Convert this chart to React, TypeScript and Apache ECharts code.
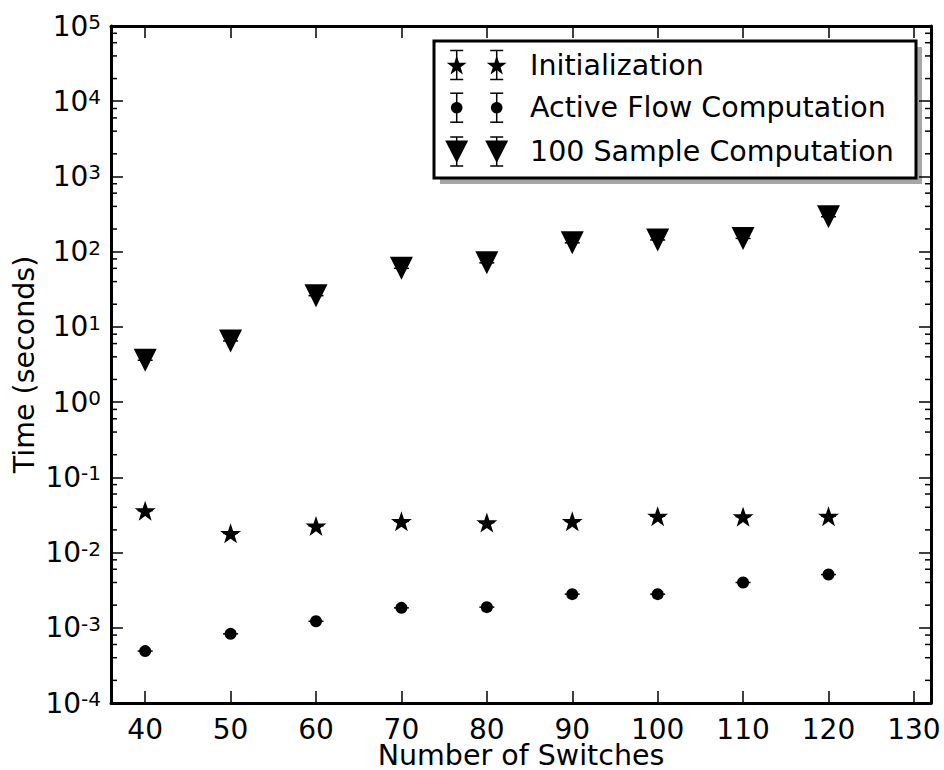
import React, { useEffect, useRef } from "react";
import * as echarts from "echarts";

const switches = [40, 50, 60, 70, 80, 90, 100, 110, 120];
const initTime = [0.036, 0.018, 0.0226, 0.026, 0.025, 0.026, 0.0305, 0.03, 0.0305];
const activeFlowTime = [0.00049, 0.00083, 0.00122, 0.00184, 0.00188, 0.0028, 0.0028, 0.004, 0.0051];
const sampleTime = [3.6, 6.5, 26, 60, 71, 131, 143, 150, 291];
const xTicks = [40, 50, 60, 70, 80, 90, 100, 110, 120, 130];
const seriesNames = ["Initialization", "Active Flow Computation", "100 Sample Computation"];

const X_MIN = 36;
const X_MAX = 132;
const Y_MIN = 1e-4;
const Y_MAX = 1e5;
const FONT = "DejaVu Sans";

// minor ticks at 2,4,6,8 x 10^k
const minorSubs = [2, 4, 6, 8];
const minorTickVals: number[] = [];
for (let e = -4; e < 5; e++) for (const m of minorSubs) minorTickVals.push(m * Math.pow(10, e));

function starPoints(cx: number, cy: number, R: number): number[][] {
  const pts: number[][] = [];
  const r = R * 0.39;
  for (let i = 0; i < 10; i++) {
    const ang = (-90 + i * 36) * Math.PI / 180;
    const rad = i % 2 === 0 ? R : r;
    pts.push([cx + rad * Math.cos(ang), cy + rad * Math.sin(ang)]);
  }
  return pts;
}
function starPath(R: number): string {
  const p = starPoints(0, 0, R);
  return "path://M" + p.map((q) => q[0].toFixed(3) + " " + q[1].toFixed(3)).join(" L") + " Z";
}

function pairs(ys: number[]) {
  return switches.map((x, i) => [x, ys[i]]);
}

function legendIcon(kind: string, cx: number, cy: number) {
  const els: any[] = [];
  const bar = { stroke: "#000", lineWidth: 1.5 };
  els.push({ type: "line", shape: { x1: cx, y1: cy - 14.5, x2: cx, y2: cy + 14.5 }, style: bar });
  els.push({ type: "line", shape: { x1: cx - 6.5, y1: cy - 14.5, x2: cx + 6.5, y2: cy - 14.5 }, style: bar });
  els.push({ type: "line", shape: { x1: cx - 6.5, y1: cy + 14.5, x2: cx + 6.5, y2: cy + 14.5 }, style: bar });
  if (kind === "star") {
    els.push({ type: "polygon", shape: { points: starPoints(cx, cy + 1, 10.5) }, style: { fill: "#000" } });
  } else if (kind === "circle") {
    els.push({ type: "circle", shape: { cx, cy, r: 5.8 }, style: { fill: "#000" } });
  } else {
    els.push({ type: "polygon", shape: { points: [[cx - 11.5, cy - 11], [cx + 11.5, cy - 11], [cx, cy + 11.5]] }, style: { fill: "#000" } });
  }
  return els;
}

export default function App() {
  const ref = useRef<HTMLDivElement>(null);
  useEffect(() => {
    if (!ref.current) return;
    document.body.style.margin = "0";
    document.body.style.overflow = "hidden";
    const chart = echarts.init(ref.current, undefined, { renderer: "svg", width: 944, height: 770 });

    const kinds = ["star", "circle", "triangle"];
    const rowY = [24, 66.7, 110.5];
    const legendChildren: any[] = [
      { type: "rect", shape: { x: 6, y: 6, width: 482, height: 137 }, style: { fill: "#a6a6a6" } },
      { type: "rect", shape: { x: 0, y: 0, width: 482, height: 137 }, style: { fill: "#fff", stroke: "#000", lineWidth: 3 } },
    ];
    kinds.forEach((k, i) => {
      legendChildren.push(...legendIcon(k, 22.7, rowY[i]));
      legendChildren.push(...legendIcon(k, 62.7, rowY[i]));
      legendChildren.push({
        type: "text",
        x: 96,
        y: rowY[i],
        style: { text: seriesNames[i], font: `28.5px '${FONT}'`, fill: "#000", verticalAlign: "middle", align: "left" },
      });
    });

    const capSeries = (data: number[][]) => ({
      type: "scatter",
      data,
      symbol: "rect",
      symbolSize: [15, 1.5],
      itemStyle: { color: "#000", opacity: 1 },
      z: 4,
      silent: true,
    });

    const axisLineStyle = { lineStyle: { color: "#000", width: 3 } };
    const tickStyle = { inside: true, length: 12, lineStyle: { color: "#000", width: 1.5 } };

    chart.setOption({
      animation: false,
      backgroundColor: "#fff",
      textStyle: { fontFamily: FONT },
      grid: { left: 111, top: 26, right: 13, bottom: 67, containLabel: false, outerBoundsMode: "none" },
      xAxis: [
        {
          type: "value",
          min: X_MIN,
          max: X_MAX,
          position: "bottom",
          name: "Number of Switches",
          nameLocation: "middle",
          nameGap: 38,
          nameMoveOverlap: false,
          nameTextStyle: { fontSize: 28.5, lineHeight: 28, color: "#000", fontFamily: FONT },
          axisLine: { show: true, ...axisLineStyle },
          axisTick: { ...tickStyle, customValues: xTicks },
          axisLabel: { customValues: xTicks, fontSize: 28, lineHeight: 24, color: "#000", margin: 14, fontFamily: FONT },
          splitLine: { show: false },
        },
        {
          type: "value",
          min: X_MIN,
          max: X_MAX,
          position: "top",
          axisLine: { show: true, ...axisLineStyle },
          axisTick: { ...tickStyle, customValues: xTicks },
          axisLabel: { show: false },
          splitLine: { show: false },
        },
      ],
      yAxis: [
        {
          type: "log",
          logBase: 10,
          min: Y_MIN,
          max: Y_MAX,
          splitNumber: 9,
          position: "left",
          name: "Time (seconds)",
          nameLocation: "middle",
          nameGap: 72,
          nameMoveOverlap: false,
          nameTextStyle: { fontSize: 28.5, color: "#000", fontFamily: FONT },
          axisLine: { show: true, ...axisLineStyle },
          axisTick: tickStyle,
          axisLabel: {
            color: "#000",
            margin: 10,
            formatter: (v: number) => `{b|10}{s|${Math.round(Math.log10(v))}}`,
            rich: {
              b: { fontSize: 28, lineHeight: 28, fontFamily: FONT, color: "#000" },
              s: { fontSize: 20, lineHeight: 20, verticalAlign: "top", fontFamily: FONT, color: "#000" },
            },
          },
          splitLine: { show: false },
        },
        {
          type: "log",
          logBase: 10,
          min: Y_MIN,
          max: Y_MAX,
          splitNumber: 9,
          position: "right",
          axisLine: { show: true, ...axisLineStyle },
          axisTick: tickStyle,
          axisLabel: { show: false },
          splitLine: { show: false },
        },
      ],
      graphic: [{ type: "group", x: 434, y: 41, z: 100, children: legendChildren }],
      series: [
        {
          type: "custom",
          name: "minorTicks",
          silent: true,
          data: minorTickVals.map((v) => [X_MIN, v]),
          renderItem: (params: any, api: any) => {
            const y = api.coord([X_MIN, api.value(1)])[1];
            const cs = params.coordSys;
            const st = { stroke: "#000", lineWidth: 1.5 };
            return {
              type: "group",
              children: [
                { type: "line", shape: { x1: cs.x, y1: y, x2: cs.x + 6, y2: y }, style: st },
                { type: "line", shape: { x1: cs.x + cs.width - 6, y1: y, x2: cs.x + cs.width, y2: y }, style: st },
              ],
            };
          },
          z: 3,
        },
        {
          name: seriesNames[0],
          type: "scatter",
          data: pairs(initTime),
          symbol: starPath(10),
          symbolSize: [21, 20],
          itemStyle: { color: "#000", opacity: 1 },
          z: 5,
        },
        {
          name: seriesNames[1],
          type: "scatter",
          data: pairs(activeFlowTime),
          symbol: "circle",
          symbolSize: 12,
          itemStyle: { color: "#000", opacity: 1 },
          z: 5,
        },
        {
          name: seriesNames[2],
          type: "scatter",
          data: pairs(sampleTime),
          symbol: "triangle",
          symbolRotate: 180,
          symbolSize: [23, 23],
          itemStyle: { color: "#000", opacity: 1 },
          z: 5,
        },
        capSeries(pairs(initTime)),
        capSeries(pairs(activeFlowTime)),
        capSeries(pairs(sampleTime)),
      ],
    });
    return () => chart.dispose();
  }, []);
  return <div ref={ref} style={{ width: 944, height: 770, position: "absolute", left: 0, top: 0 }} />;
}
